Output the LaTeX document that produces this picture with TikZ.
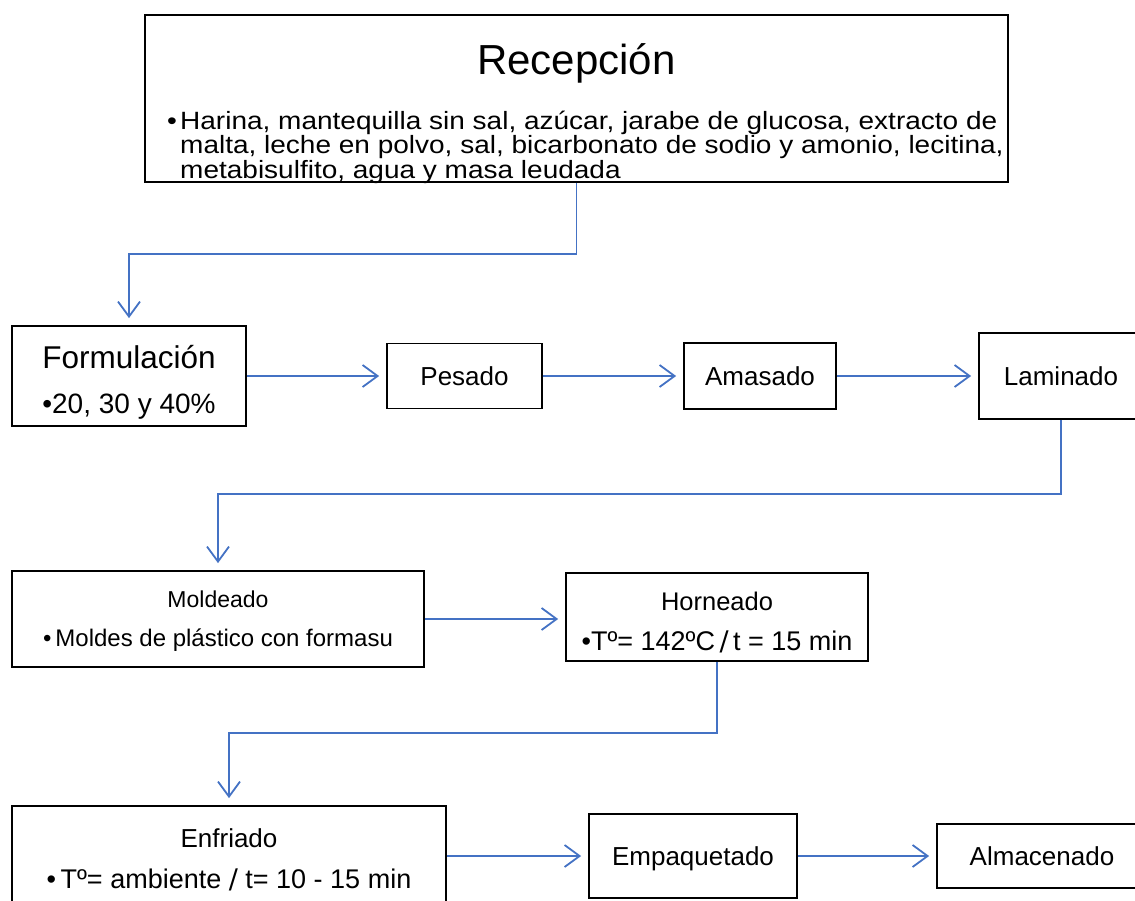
\documentclass[tikz,border=0pt]{standalone}
\usepackage{fontspec}
\setmainfont{Liberation Sans}
\newfontfamily\dvsans{DejaVu Sans}
\newfontfamily\recfont[FakeStretch=1.12]{Liberation Sans}
\usetikzlibrary{arrows.meta}
\definecolor{linkblue}{HTML}{4472C4}
\newcommand{\fs}[1]{\fontsize{#1}{#1}\selectfont}
\tikzset{
  box/.style={draw=black, line width=1.8pt, inner sep=0pt, fill=white},
  conn/.style={draw=linkblue, line width=1.8pt, -{Straight Barb[length=15pt,width=22pt]}, shorten >=7pt},
  lbl/.style={anchor=base, inner sep=0pt},
  lblw/.style={anchor=base west, inner sep=0pt},
  rectext/.style={lblw, font=\recfont\fs{25}},
}
\begin{document}
\begin{tikzpicture}[x=1pt,y=-1pt]
\useasboundingbox (0,0) rectangle (1135,900);
\clip (0,0) rectangle (1135,900);
\fill[white] (0,0) rectangle (1135,900);

% boxes
\node[box, minimum width=863pt, minimum height=167pt] (rec) at (576.5,98.5) {};
\node[box, minimum width=234pt, minimum height=100pt] (form) at (129,376) {};
\node[box, minimum width=155pt, minimum height=65pt] (pes) at (464.5,376) {};
\node[box, minimum width=152pt, minimum height=66pt] (ama) at (760,376) {};
\node[box, minimum width=164pt, minimum height=86pt] (lam) at (1061,376) {};
\node[box, minimum width=412pt, minimum height=96pt] (mol) at (218,619) {};
\node[box, minimum width=302pt, minimum height=88pt] (hor) at (717,617) {};
\node[box, minimum width=434pt, minimum height=100pt] (enf) at (229,856) {};
\node[box, minimum width=208pt, minimum height=84pt] (emp) at (693,856) {};
\node[box, minimum width=210pt, minimum height=64pt] (alm) at (1042,856) {};

% connectors
\coordinate (j1) at (576.5,254);
\coordinate (j2) at (1061,494);
\coordinate (j3) at (717,733);
\draw[conn] (rec.south) -- (j1) -| (form.north);
\draw[conn] (form.east) -- (form.east -| pes.west);
\draw[conn] (pes.east) -- (pes.east -| ama.west);
\draw[conn] (ama.east) -- (ama.east -| lam.west);
\draw[conn] (lam.south) -- (j2) -| (mol.north);
\draw[conn] (mol.east) -- (mol.east -| hor.west);
\draw[conn] (hor.south) -- (j3) -| (enf.north);
\draw[conn] (enf.east) -- (enf.east -| emp.west);
\draw[conn] (emp.east) -- (emp.east -| alm.west);

% texts
\node[lbl, font=\fs{42}] (recT) at (576.5,74) {Recepción};
\node[rectext] (recB) at (167,129) {•};
\node[rectext] (recL1) at (180,129) {Harina, mantequilla sin sal, azúcar, jarabe de glucosa, extracto de};
\node[rectext] (recL2) at (180,153.5) {malta, leche en polvo, sal, bicarbonato de sodio y amonio, lecitina,};
\node[rectext] (recL3) at (180,178) {metabisulfito, agua y masa leudada};

\node[lbl, font=\fs{31.5}] (formT) at (129,368) {Formulación};
\node[lbl, font=\fs{28}] (formB) at (129,413) {•20, 30 y 40\%};

\node[lbl, font=\fs{26}] (pesT) at (464.5,385.3) {Pesado};
\node[lbl, font=\fs{26}] (amaT) at (760,385.3) {Amasado};
\node[lbl, font=\fs{26}] (lamT) at (1061,385.3) {Laminado};

\node[lbl, font=\fs{23}] (molT) at (218,607) {Moldeado};
\node[lbl, font=\fs{24}] (molB) at (218,646) {•\,Moldes de plástico con formasu};

\node[lbl, font=\fs{25.5}] (horT) at (717,610) {Horneado};
\node[lbl, font=\fs{27}] (horB) at (717,650) {•Tº= 142ºC{\dvsans\,∕\,}t = 15 min};

\node[lbl, font=\fs{26}] (enfT) at (229,847) {Enfriado};
\node[lbl, font=\fs{27}] (enfB) at (229,888) {•\,Tº= ambiente {\dvsans ∕} t= 10 - 15 min};

\node[lbl, font=\fs{26}] (empT) at (693,865.3) {Empaquetado};
\node[lbl, font=\fs{26}] (almT) at (1042,865.3) {Almacenado};
\end{tikzpicture}
\end{document}
